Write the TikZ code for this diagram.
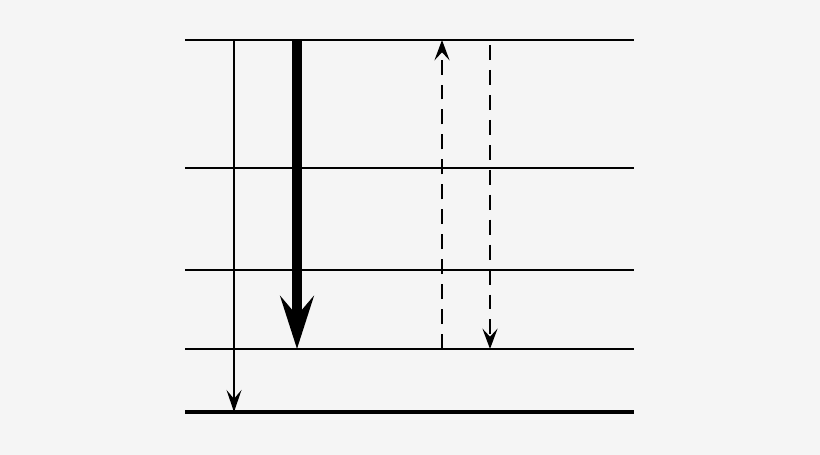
\documentclass[tikz,border=0pt]{standalone}
\usetikzlibrary{arrows.meta}

\tikzset{
  level/.style={line width=1.1pt},
  ground/.style={line width=1.8pt},
  thinarrow/.style={line width=1.1pt,-{Stealth[length=12.5pt,width=8.5pt,inset=5pt]}},
  bigarrow/.style={line width=6.2pt,-{Stealth[length=30pt,width=19pt,inset=11pt]}},
  dasharrow/.style={line width=1.5pt,dash pattern=on 8.5pt off 5.7pt,-{Stealth[length=11.5pt,width=8.5pt,inset=4.5pt]}}
}

\begin{document}
\begin{tikzpicture}
\fill[white!96!black] (0,0) rectangle (16.4,9.1);
\useasboundingbox (0,0) rectangle (16.4,9.1);
\coordinate (l1) at (3.7,8.3);
\coordinate (l2) at (3.7,5.74);
\coordinate (l3) at (3.7,3.7);
\coordinate (l4) at (3.7,2.12);
\coordinate (l5) at (3.7,0.86);
\draw[level] (l1)--++(8.98,0);
\draw[level] (l2)--++(8.98,0);
\draw[level] (l3)--++(8.98,0);
\draw[level] (l4)--++(8.98,0);
\draw[ground] (l5)--++(8.98,0);
\coordinate (a1) at (4.68,8.3);
\coordinate (a2) at (4.68,0.86);
\coordinate (b1) at (5.94,8.3);
\coordinate (b2) at (5.94,2.12);
\coordinate (c1) at (8.84,2.12);
\coordinate (c2) at (8.84,8.3);
\coordinate (d1) at (9.8,8.2);
\coordinate (d2) at (9.8,2.12);
\draw[thinarrow] (a1)--(a2);
\draw[bigarrow] (b1)--(b2);
\draw[dasharrow] (c1)--(c2);
\draw[dasharrow] (d1)--(d2);
\end{tikzpicture}
\end{document}
